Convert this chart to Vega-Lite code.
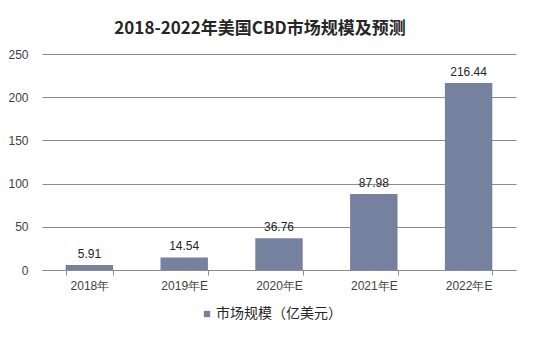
{
  "$schema": "https://vega.github.io/schema/vega-lite/v6.json",
  "autosize": {"type": "none"},
  "width": 474,
  "height": 216,
  "padding": {"left": 42, "top": 54, "right": 20, "bottom": 67},
  "background": "#ffffff",
  "title": {
    "text": "2018-2022年美国CBD市场规模及预测",
    "font": "Noto Sans CJK SC",
    "fontSize": 17,
    "fontWeight": "bold",
    "color": "#262626",
    "anchor": "middle",
    "dx": -19,
    "offset": 10
  },
  "data": {
    "values": [
      {"year": "2018年", "value": 5.91, "series": "市场规模（亿美元）"},
      {"year": "2019年E", "value": 14.54, "series": "市场规模（亿美元）"},
      {"year": "2020年E", "value": 36.76, "series": "市场规模（亿美元）"},
      {"year": "2021年E", "value": 87.98, "series": "市场规模（亿美元）"},
      {"year": "2022年E", "value": 216.44, "series": "市场规模（亿美元）"}
    ]
  },
  "encoding": {
    "x": {
      "field": "year",
      "type": "nominal",
      "sort": null,
      "title": null,
      "scale": {"paddingInner": 0.5, "paddingOuter": 0.25},
      "axis": {
        "labelAngle": 0,
        "labelFont": "Liberation Sans",
        "labelFontSize": 12,
        "labelColor": "#404040",
        "labelPadding": 5,
        "domainColor": "#8c8c8c",
        "tickColor": "#8c8c8c",
        "tickSize": 5,
        "tickBand": "extent",
        "grid": false
      }
    },
    "y": {
      "field": "value",
      "type": "quantitative",
      "title": null,
      "scale": {"domain": [0, 250], "nice": false},
      "axis": {
        "values": [0, 50, 100, 150, 200, 250],
        "labelFont": "Liberation Sans",
        "labelFontSize": 12,
        "labelColor": "#404040",
        "labelPadding": 14,
        "domain": false,
        "ticks": false,
        "grid": true,
        "gridColor": "#8c8c8c",
        "gridWidth": 1
      }
    }
  },
  "layer": [
    {
      "mark": {"type": "bar", "color": "#76809f"},
      "encoding": {
        "color": {
          "field": "series",
          "type": "nominal",
          "scale": {"range": ["#76809f"]},
          "legend": {
            "orient": "none",
            "legendX": 158,
            "legendY": 253,
            "title": null,
            "symbolType": "square",
            "symbolSize": 40,
            "labelFont": "Noto Sans CJK SC",
            "labelFontSize": 14,
            "labelColor": "#262626",
            "labelOffset": 2
          }
        }
      }
    },
    {
      "mark": {"type": "text", "dy": -11, "font": "Liberation Sans", "fontSize": 12, "color": "#262626"},
      "encoding": {
        "text": {"field": "value", "type": "quantitative", "format": ".2f"}
      }
    }
  ],
  "config": {"view": {"stroke": null}}
}
